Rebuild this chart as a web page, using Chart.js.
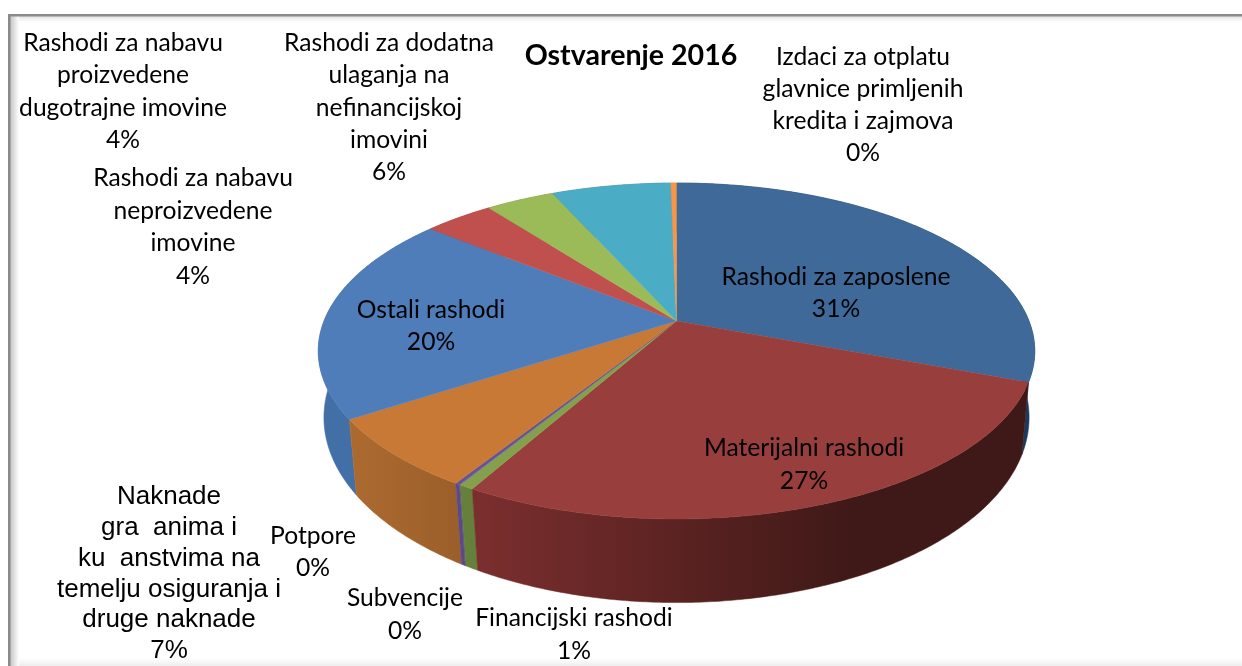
<!DOCTYPE html>
<html><head><meta charset="utf-8">
<style>html,body{margin:0;padding:0;background:#fff}canvas{display:block}</style>
<script src="https://cdn.jsdelivr.net/npm/chart.js@4/dist/chart.umd.js"></script>
</head><body>
<canvas id="c" width="1242" height="666"></canvas>
<script>
const titleText = "Ostvarenje 2016";
const categories = ["Rashodi za zaposlene","Materijalni rashodi","Financijski rashodi","Subvencije","Potpore",
 "Naknade građanima i kućanstvima na temelju osiguranja i druge naknade","Ostali rashodi",
 "Rashodi za nabavu neproizvedene imovine","Rashodi za nabavu proizvedene dugotrajne imovine",
 "Rashodi za dodatna ulaganja na nefinancijskoj imovini","Izdaci za otplatu glavnice primljenih kredita i zajmova"];
const values = [30.75,27.39,0.56,0.04,0.18,6.88,20.05,3.75,3.7,6.4,0.3];
const topColors = ["#3e6999","#983f3d","#84a04a","#7f6aa0","#65548f","#c87936","#4f7dba","#bf504d","#9bbb59","#4bacc6","#f79646"];
const sideFrom = ["#1d3a5c","#7b2e2e","#64803a","#5d4a85","#5d4a85","#ac6a30","#426fa6","#8e3b39","#74893f","#38808f","#b8702f"];
const sideTo   = ["#1d3a5c","#3f1917","#64803a","#5d4a85","#5d4a85","#9c5f2a","#426fa6","#8e3b39","#74893f","#38808f","#b8702f"];
const labelLines = [
 ["Rashodi za zaposlene","31%"],["Materijalni rashodi","27%"],["Financijski rashodi","1%"],["Subvencije","0%"],["Potpore","0%"],
 ["Naknade","gra  anima i","ku  anstvima na","temelju osiguranja i","druge naknade","7%"],
 ["Ostali rashodi","20%"],["Rashodi za nabavu","neproizvedene","imovine","4%"],
 ["Rashodi za nabavu","proizvedene","dugotrajne imovine","4%"],
 ["Rashodi za dodatna","ulaganja na","nefinancijskoj","imovini","6%"],
 ["Izdaci za otplatu","glavnice primljenih","kredita i zajmova","0%"]];
const labelX = [836,804,574,405,313,169,431,193,123,389,863];
const labelY = [277,448,618,598,536,497,310,178,43,43,57];
const lineGap = [32,33,33,33,32,30.8,32,32.5,32.3,32.3,32];

const K=-0.1786, BX=2.0982, AY=0.968, TOPDY=-30;      // upper rim projection
const K2=-0.165, BX2=2.07, AY2=1.0714, BOTDY=36;      // lower rim projection
const FONT="Lato", SX=0.985, FONT2="'Liberation Sans'", SX2=1;

function rim(arc,t,low){
  const u=Math.cos(t),v=Math.sin(t),R=arc.outerRadius;
  if(low){const d=1+K2*v;return [arc.x+BX2*R*u/d, arc.y+BOTDY+AY2*R*v/d];}
  const d=1+K*v;return [arc.x+BX*R*u/d, arc.y+TOPDY+AY*R*v/d];
}
function samples(a,b){const n=Math.max(2,Math.ceil((b-a)/0.01));const r=[];for(let i=0;i<=n;i++)r.push(a+(b-a)*i/n);return r;}
function text(ctx,s,x,y,font,sx){
  ctx.font=font;const w=ctx.measureText(s).width;
  ctx.fillText(s,x,y,w*sx);
}
const pie3d={
 id:'pie3d',
 beforeDraw(ch){
  const c=ch.ctx;c.save();
  c.fillStyle='#fff';c.fillRect(0,0,1242,666);
  let g=c.createLinearGradient(10,0,19,0);g.addColorStop(0,'#c4c4c4');g.addColorStop(1,'#ffffff');
  c.fillStyle=g;c.fillRect(10,16,9,650);
  g=c.createLinearGradient(0,16,0,22);g.addColorStop(0,'#e2e2e2');g.addColorStop(1,'#ffffff');
  c.fillStyle=g;c.fillRect(19,16,1223,6);
  g=c.createLinearGradient(0,658,0,666);g.addColorStop(0,'#ffffff');g.addColorStop(1,'#eeeeee');
  c.fillStyle=g;c.fillRect(19,658,1223,8);
  c.fillStyle='#8a8a8a';c.fillRect(8,14,1234,2.5);c.fillRect(8,14,2.5,652);
  c.restore();
 },
 beforeDatasetDraw(ch,args){
  const c=ch.ctx,meta=args.meta,arcs=meta.data;
  const order=arcs.map((a,i)=>i).sort((p,q)=>{
    const mp=Math.sin((arcs[p].startAngle+arcs[p].endAngle)/2),mq=Math.sin((arcs[q].startAngle+arcs[q].endAngle)/2);return mp-mq;});
  c.save();
  order.forEach(i=>{
    const a=arcs[i],ts=samples(a.startAngle,a.endAngle);
    const up=ts.map(t=>rim(a,t,false)),lo=ts.map(t=>rim(a,t,true));
    let x0=Math.min(...up.map(p=>p[0])),x1=Math.max(...up.map(p=>p[0]));
    if(i===1){x0=478;x1=850;}
    const g=c.createLinearGradient(x0,0,Math.max(x1,x0+1),0);
    g.addColorStop(0,sideFrom[i]);g.addColorStop(1,sideTo[i]);
    c.fillStyle=g;c.strokeStyle=g;c.lineWidth=0.5;
    c.beginPath();up.forEach((p,j)=>j?c.lineTo(p[0],p[1]):c.moveTo(p[0],p[1]));
    lo.reverse().forEach(p=>c.lineTo(p[0],p[1]));c.closePath();c.fill();c.stroke();
  });
  arcs.forEach((a,i)=>{
    const ax=a.x,ay=a.y+TOPDY;
    c.fillStyle=topColors[i];c.strokeStyle=topColors[i];c.lineWidth=0.4;
    c.beginPath();c.moveTo(ax,ay);
    samples(a.startAngle,a.endAngle).forEach(t=>{const p=rim(a,t,false);c.lineTo(p[0],p[1]);});
    c.closePath();c.fill();c.stroke();
  });
  c.restore();
  return false;
 },
 afterDraw(ch){
  const c=ch.ctx;c.save();c.fillStyle='#000';c.textAlign='center';c.textBaseline='middle';
  text(c,titleText,631,56,`bold 29px ${FONT}`,0.985);
  labelLines.forEach((ls,i)=>ls.forEach((s,j)=>{
    const ar=i===5;
    text(c,s,labelX[i],labelY[i]+j*lineGap[i],ar?`26px ${FONT2}`:`25px ${FONT}`,ar?SX2:SX);
  }));
  c.restore();
 }
};
new Chart(document.getElementById('c'),{
 type:'pie',
 data:{labels:categories,datasets:[{data:values,backgroundColor:topColors,borderWidth:0}]},
 options:{responsive:false,animation:false,
  layout:{padding:{left:318,right:207,top:183,bottom:147}},
  plugins:{legend:{display:false},tooltip:{enabled:false},title:{display:false}}},
 plugins:[pie3d]
});
</script>
</body></html>
